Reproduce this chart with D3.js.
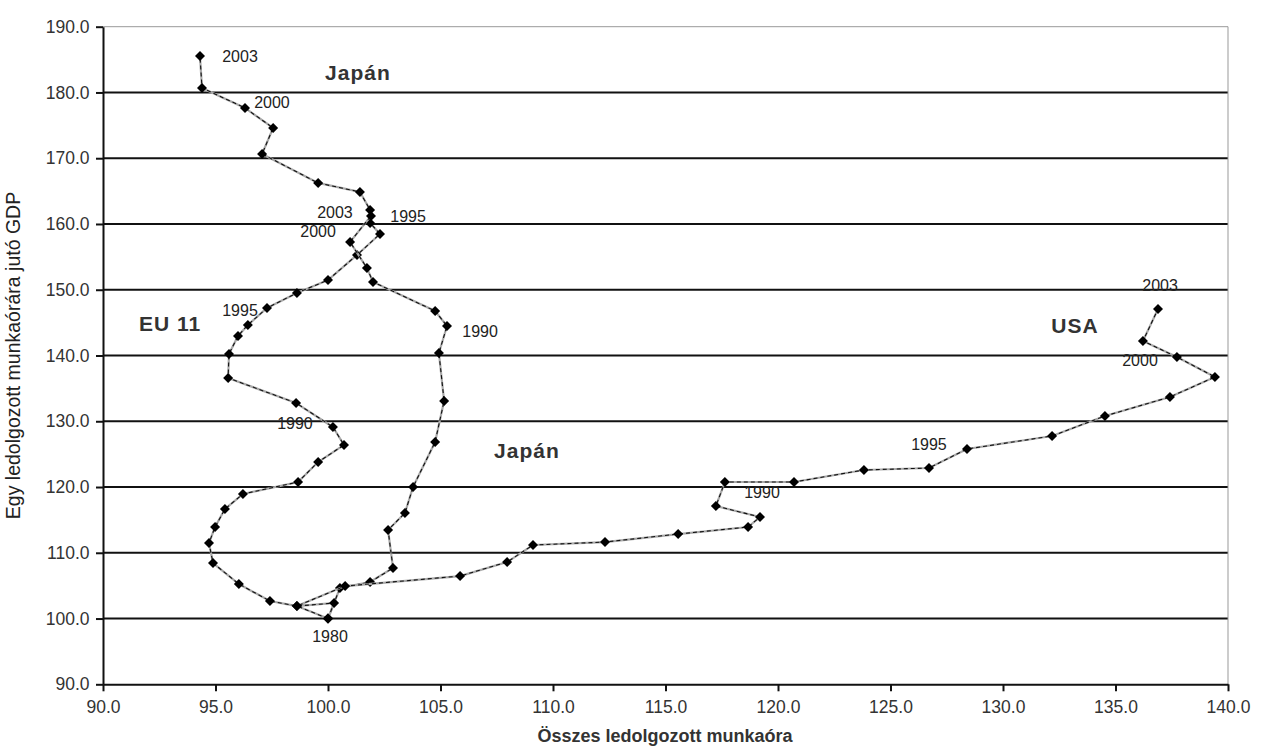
<!DOCTYPE html>
<html>
<head>
<meta charset="utf-8">
<script src="https://cdn.jsdelivr.net/npm/d3@7"></script>
<style>
  html, body { margin: 0; padding: 0; background: #fff; }
  svg { display: block; font-family: "Liberation Sans", Arial, sans-serif; }
</style>
</head>
<body>
<svg id="chart" width="1268" height="751"></svg>
<script>
// ---- data ----
const years = [1980,1981,1982,1983,1984,1985,1986,1987,1988,1989,1990,1991,1992,1993,1994,1995,1996,1997,1998,1999,2000,2001,2002,2003];

const euHours  = [100.0,98.62,97.42,96.04,94.89,94.71,94.98,95.42,96.22,98.67,99.56,100.71,100.22,98.58,95.56,95.60,96.00,96.44,97.29,98.62,100.00,101.29,102.31,101.87];
const euGdp    = [100.0,101.90,102.66,105.25,108.44,111.48,113.92,116.65,118.94,120.76,123.80,126.39,129.13,132.78,136.58,140.23,142.97,144.65,147.23,149.51,151.48,155.29,158.48,160.15];

const japanHours = [100.0,100.53,101.87,102.89,102.67,103.42,103.78,104.76,105.16,104.93,105.29,104.76,102.00,101.73,100.98,101.91,101.87,101.42,99.56,97.07,97.56,96.31,94.40,94.31];
const japanGdp   = [100.0,104.64,105.55,107.68,113.46,116.05,120.00,126.84,133.08,140.38,144.49,146.77,151.18,153.31,157.26,161.22,162.13,164.87,166.24,170.65,174.60,177.65,180.69,185.55];

const usaHours = [100.0,100.27,98.62,100.76,105.87,107.96,109.11,112.31,115.56,118.67,119.20,117.24,117.64,120.71,123.82,126.71,128.40,132.18,134.53,137.42,139.42,137.73,136.22,136.89];
const usaGdp   = [100.0,102.36,101.90,104.94,106.46,108.59,111.18,111.63,112.85,113.92,115.44,117.11,120.76,120.76,122.59,122.89,125.78,127.76,130.80,133.69,136.73,139.77,142.20,147.07];

const xTicks = [90,95,100,105,110,115,120,125,130,135,140];
const yTicks = [90,100,110,120,130,140,150,160,170,180,190];

const xTitle = "Összes ledolgozott munkaóra";
const yTitle = "Egy ledolgozott munkaórára jutó GDP";

// year annotations and series names (anchored in data units)
const yearLabels = [
  {t:"2003", x:96.09, y:185.4},
  {t:"2000", x:97.51, y:178.4},
  {t:"2003", x:100.31, y:161.8},
  {t:"2000", x:99.56, y:158.8},
  {t:"1995", x:103.56, y:161.2},
  {t:"1995", x:96.09, y:146.9},
  {t:"1990", x:106.76, y:143.6},
  {t:"1990", x:98.53, y:129.6},
  {t:"1980", x:100.09, y:97.2},
  {t:"1990", x:119.29, y:119.1},
  {t:"1995", x:126.71, y:126.4},
  {t:"2003", x:136.98, y:150.7},
  {t:"2000", x:136.09, y:139.3}
];
const seriesLabels = [
  {t:"Japán", x:101.33, y:183.1},
  {t:"EU 11", x:92.98, y:144.9},
  {t:"Japán", x:108.84, y:125.6},
  {t:"USA", x:133.2, y:144.6}
];

// ---- chart ----
const svg = d3.select("#chart");
const x = d3.scaleLinear().domain([90,140]).range([103,1228]);
const y = d3.scaleLinear().domain([90,190]).range([684.3,26.7]);

// gridlines
svg.append("g").selectAll("line")
  .data(yTicks.filter(v => v > 90 && v < 190))
  .join("line")
  .attr("x1", x(90)).attr("x2", x(140))
  .attr("y1", d => y(d)).attr("y2", d => y(d))
  .attr("stroke", "#111").attr("stroke-width", 2);

// frame top & right (gray)
svg.append("line").attr("x1", x(90)).attr("x2", x(140)).attr("y1", y(190)).attr("y2", y(190))
  .attr("stroke", "#999").attr("stroke-width", 1);
svg.append("line").attr("x1", x(140)).attr("x2", x(140)).attr("y1", y(190)).attr("y2", y(90))
  .attr("stroke", "#999").attr("stroke-width", 1);

// axes
const fmt = d3.format(".1f");
const xAxis = svg.append("g").attr("transform", `translate(0,${y(90)})`)
  .call(d3.axisBottom(x).tickValues(xTicks).tickFormat(fmt).tickSize(7).tickSizeOuter(0));
const yAxis = svg.append("g").attr("transform", `translate(${x(90)},0)`)
  .call(d3.axisLeft(y).tickValues(yTicks).tickFormat(fmt).tickSize(7).tickSizeOuter(0));
[xAxis, yAxis].forEach(g => {
  g.select(".domain").attr("stroke", "#111").attr("stroke-width", 2);
  g.selectAll(".tick line").attr("stroke", "#111").attr("stroke-width", 2);
  g.selectAll(".tick text").attr("fill", "#333").attr("font-size", 17.5)
    .attr("font-family", "Liberation Sans, Arial, sans-serif");
});
xAxis.selectAll(".tick text").attr("dy", "1.05em");
yAxis.selectAll(".tick text").attr("dx", "-0.2em");

// axis titles
svg.append("text").attr("x", 665).attr("y", 742).attr("text-anchor", "middle")
  .attr("font-size", 18).attr("font-weight", "bold").attr("fill", "#333").text(xTitle);
svg.append("text").attr("transform", `translate(20,${(y(190)+y(90))/2}) rotate(-90)`)
  .attr("text-anchor", "middle").attr("font-size", 19.5).attr("fill", "#222").text(yTitle);

// series
const series = [
  {hours: euHours, gdp: euGdp},
  {hours: japanHours, gdp: japanGdp},
  {hours: usaHours, gdp: usaGdp}
];
const line = d3.line().x(d => x(d[0])).y(d => y(d[1]));
const marker = d3.symbol().type(d3.symbolSquare).size(50);

series.forEach(s => {
  const pts = s.hours.map((h,i) => [h, s.gdp[i]]);
  svg.append("path").datum(pts).attr("d", line)
    .attr("fill", "none").attr("stroke", "#aaa").attr("stroke-width", 2.2);
  svg.append("path").datum(pts).attr("d", line)
    .attr("fill", "none").attr("stroke", "#111").attr("stroke-width", 1.1)
    .attr("stroke-dasharray", "4,3");
  svg.append("g").selectAll("path").data(pts).join("path")
    .attr("d", marker)
    .attr("transform", d => `translate(${x(d[0])},${y(d[1])}) rotate(45)`)
    .attr("fill", "#000");
});

// labels
svg.append("g").selectAll("text").data(yearLabels).join("text")
  .attr("x", d => x(d.x)).attr("y", d => y(d.y))
  .attr("text-anchor", "middle").attr("dominant-baseline", "central")
  .attr("font-size", 16).attr("fill", "#222").text(d => d.t);
svg.append("g").selectAll("text").data(seriesLabels).join("text")
  .attr("x", d => x(d.x)).attr("y", d => y(d.y))
  .attr("text-anchor", "middle").attr("dominant-baseline", "central")
  .attr("font-size", 21).attr("font-weight", "bold").attr("letter-spacing", 1)
  .attr("fill", "#333").text(d => d.t);
</script>
</body>
</html>
